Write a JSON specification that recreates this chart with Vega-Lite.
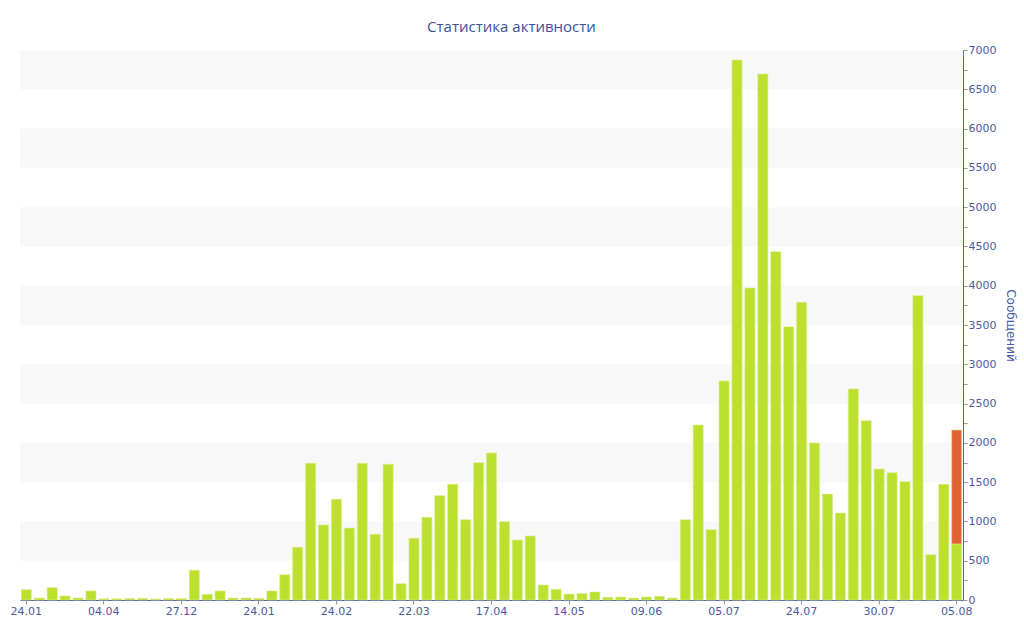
{
  "$schema": "https://vega.github.io/schema/vega-lite/v6.json",
  "autosize": "none",
  "width": 943,
  "height": 550,
  "padding": {"left": 20, "top": 50, "right": 61, "bottom": 40},
  "background": "white",
  "title": {
    "text": "Статистика активности",
    "font": "Open Sans",
    "fontSize": 15,
    "fontWeight": "normal",
    "color": "#3d5298",
    "baseline": "alphabetic",
    "offset": 18,
    "dx": 20,
    "dy": 21
  },
  "config": {
    "view": {"stroke": null},
    "axis": {
      "labelFont": "DejaVu Sans",
      "labelFontSize": 11,
      "labelColor": "#4a5a9e",
      "domainColor": "#5566a6",
      "tickColor": "#999999",
      "labelOverlap": false,
      "grid": false
    }
  },
  "datasets": {
    "bands": [
      {"lo": 500, "hi": 1000},
      {"lo": 1500, "hi": 2000},
      {"lo": 2500, "hi": 3000},
      {"lo": 3500, "hi": 4000},
      {"lo": 4500, "hi": 5000},
      {"lo": 5500, "hi": 6000},
      {"lo": 6500, "hi": 7000}
    ],
    "activity": [
      {"n": 1, "part": "a", "count": 131},
      {"n": 2, "part": "a", "count": 25},
      {"n": 3, "part": "a", "count": 157},
      {"n": 4, "part": "a", "count": 51},
      {"n": 5, "part": "a", "count": 25},
      {"n": 6, "part": "a", "count": 115},
      {"n": 7, "part": "a", "count": 15},
      {"n": 8, "part": "a", "count": 15},
      {"n": 9, "part": "a", "count": 18},
      {"n": 10, "part": "a", "count": 22},
      {"n": 11, "part": "a", "count": 12},
      {"n": 12, "part": "a", "count": 18},
      {"n": 13, "part": "a", "count": 18},
      {"n": 14, "part": "a", "count": 378},
      {"n": 15, "part": "a", "count": 72},
      {"n": 16, "part": "a", "count": 115},
      {"n": 17, "part": "a", "count": 25},
      {"n": 18, "part": "a", "count": 25},
      {"n": 19, "part": "a", "count": 22},
      {"n": 20, "part": "a", "count": 115},
      {"n": 21, "part": "a", "count": 322},
      {"n": 22, "part": "a", "count": 671},
      {"n": 23, "part": "a", "count": 1740},
      {"n": 24, "part": "a", "count": 955},
      {"n": 25, "part": "a", "count": 1281},
      {"n": 26, "part": "a", "count": 916},
      {"n": 27, "part": "a", "count": 1740},
      {"n": 28, "part": "a", "count": 836},
      {"n": 29, "part": "a", "count": 1727},
      {"n": 30, "part": "a", "count": 207},
      {"n": 31, "part": "a", "count": 785},
      {"n": 32, "part": "a", "count": 1052},
      {"n": 33, "part": "a", "count": 1328},
      {"n": 34, "part": "a", "count": 1472},
      {"n": 35, "part": "a", "count": 1022},
      {"n": 36, "part": "a", "count": 1748},
      {"n": 37, "part": "a", "count": 1871},
      {"n": 38, "part": "a", "count": 997},
      {"n": 39, "part": "a", "count": 764},
      {"n": 40, "part": "a", "count": 815},
      {"n": 41, "part": "a", "count": 191},
      {"n": 42, "part": "a", "count": 136},
      {"n": 43, "part": "a", "count": 76},
      {"n": 44, "part": "a", "count": 81},
      {"n": 45, "part": "a", "count": 102},
      {"n": 46, "part": "a", "count": 35},
      {"n": 47, "part": "a", "count": 38},
      {"n": 48, "part": "a", "count": 25},
      {"n": 49, "part": "a", "count": 38},
      {"n": 50, "part": "a", "count": 46},
      {"n": 51, "part": "a", "count": 25},
      {"n": 52, "part": "a", "count": 1022},
      {"n": 53, "part": "a", "count": 2227},
      {"n": 54, "part": "a", "count": 895},
      {"n": 55, "part": "a", "count": 2787},
      {"n": 56, "part": "a", "count": 6873},
      {"n": 57, "part": "a", "count": 3971},
      {"n": 58, "part": "a", "count": 6695},
      {"n": 59, "part": "a", "count": 4433},
      {"n": 60, "part": "a", "count": 3479},
      {"n": 61, "part": "a", "count": 3789},
      {"n": 62, "part": "a", "count": 1998},
      {"n": 63, "part": "a", "count": 1349},
      {"n": 64, "part": "a", "count": 1107},
      {"n": 65, "part": "a", "count": 2685},
      {"n": 66, "part": "a", "count": 2282},
      {"n": 67, "part": "a", "count": 1667},
      {"n": 68, "part": "a", "count": 1620},
      {"n": 69, "part": "a", "count": 1506},
      {"n": 70, "part": "a", "count": 3873},
      {"n": 71, "part": "a", "count": 577},
      {"n": 72, "part": "a", "count": 1472},
      {"n": 73, "part": "a", "count": 713},
      {"n": 73, "part": "b", "count": 1451}
    ]
  },
  "layer": [
    {
      "data": {"name": "bands"},
      "mark": {"type": "rect", "color": "#f8f8f8"},
      "encoding": {
        "y": {
          "field": "lo",
          "type": "quantitative",
          "scale": {"domain": [0, 7000], "nice": false},
          "axis": {
            "orient": "right",
            "title": "Сообщений",
            "titleFont": "DejaVu Sans",
            "titleFontSize": 12,
            "titleFontWeight": "normal",
            "titleColor": "#4a5a9e",
            "titleAngle": 90,
            "titlePadding": 8,
            "values": [0, 250, 500, 750, 1000, 1250, 1500, 1750, 2000, 2250, 2500, 2750, 3000, 3250, 3500, 3750, 4000, 4250, 4500, 4750, 5000, 5250, 5500, 5750, 6000, 6250, 6500, 6750, 7000],
            "labelExpr": "datum.value % 500 == 0 ? format(datum.value, 'd') : ''",
            "labelOverlap": false,
            "labelPadding": 1,
            "tickSize": 4
          }
        },
        "y2": {"field": "hi"}
      }
    },
    {
      "data": {"name": "activity"},
      "mark": {"type": "bar", "stroke": "#d6ee8a", "strokeWidth": 0.6},
      "encoding": {
        "x": {
          "field": "n",
          "type": "ordinal",
          "sort": "ascending",
          "scale": {"paddingInner": 0.22, "paddingOuter": 0.1},
          "axis": {
            "title": null,
            "labelAngle": 0,
            "values": [1, 7, 13, 19, 25, 31, 37, 43, 49, 55, 61, 67, 73],
            "labelExpr": "['24.01','04.04','27.12','24.01','24.02','22.03','17.04','14.05','09.06','05.07','24.07','30.07','05.08'][(datum.value - 1) / 6]",
            "tickSize": 4,
            "labelPadding": 1
          }
        },
        "y": {
          "field": "count",
          "type": "quantitative",
          "stack": "zero",
          "scale": {"domain": [0, 7000], "nice": false},
          "axis": {
            "orient": "right",
            "title": "Сообщений",
            "titleFont": "DejaVu Sans",
            "titleFontSize": 12,
            "titleFontWeight": "normal",
            "titleColor": "#4a5a9e",
            "titleAngle": 90,
            "titlePadding": 8,
            "values": [0, 250, 500, 750, 1000, 1250, 1500, 1750, 2000, 2250, 2500, 2750, 3000, 3250, 3500, 3750, 4000, 4250, 4500, 4750, 5000, 5250, 5500, 5750, 6000, 6250, 6500, 6750, 7000],
            "labelExpr": "datum.value % 500 == 0 ? format(datum.value, 'd') : ''",
            "labelOverlap": false,
            "labelPadding": 1,
            "tickSize": 4
          }
        },
        "color": {
          "field": "part",
          "type": "nominal",
          "scale": {"domain": ["a", "b"], "range": ["#bde02f", "#e06232"]},
          "legend": null
        },
        "order": {"field": "part"}
      }
    }
  ]
}
